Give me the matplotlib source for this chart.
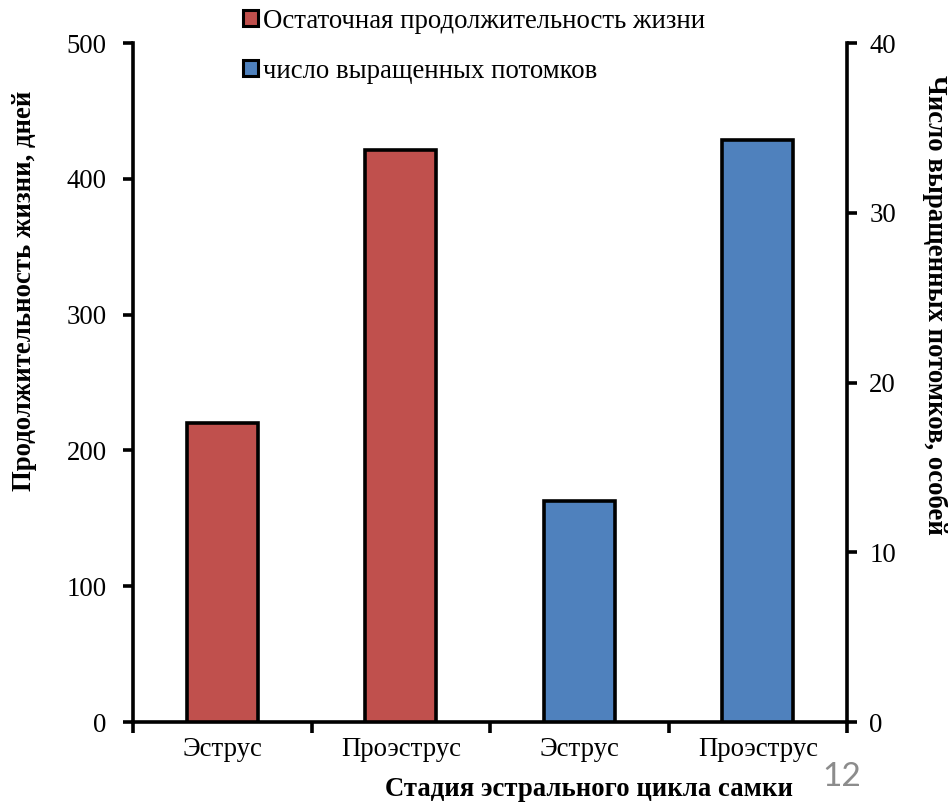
import matplotlib
matplotlib.use('Agg')
import matplotlib.pyplot as plt
from matplotlib.patches import Patch
from matplotlib.ticker import FixedLocator, NullFormatter

plt.rcParams['font.family'] = ['Liberation Serif', 'DejaVu Serif']

# данные
stages = ['Эструс', 'Проэструс', 'Эструс', 'Проэструс']
lifespan_x = [0, 1]
lifespan_days = [220, 421]          # остаточная продолжительность жизни, дней
offspring_x = [2, 3]
offspring_count = [13.0, 34.3]      # число выращенных потомков, особей

red = '#C0504D'
blue = '#4F81BD'
lw = 2.6
fs = 19.3

fig = plt.figure(figsize=(9.48, 8.07), dpi=100)
ax = fig.add_axes([0.1403, 0.1053, 0.7532, 0.8414])
ax2 = ax.twinx()

ax.bar(lifespan_x, lifespan_days, width=0.4, color=red, edgecolor='black', linewidth=lw, zorder=3)
ax2.bar(offspring_x, offspring_count, width=0.4, color=blue, edgecolor='black', linewidth=lw, zorder=3)

ax.set_xlim(-0.5, 3.5)
ax.set_ylim(0, 500)
ax2.set_ylim(0, 40)
ax.set_yticks([0, 100, 200, 300, 400, 500])
ax2.set_yticks([0, 10, 20, 30, 40])

# деления оси X на границах групп, подписи по центру
ax.xaxis.set_major_locator(FixedLocator([-0.5, 0.5, 1.5, 2.5, 3.5]))
ax.xaxis.set_major_formatter(NullFormatter())
ax.set_xticks(range(len(stages)), minor=True)
ax.set_xticklabels(stages, minor=True)
ax.tick_params(axis='x', which='major', direction='out', length=8, width=lw)
ax.tick_params(axis='x', which='minor', length=0, pad=11, labelsize=fs)

ax.tick_params(axis='y', direction='out', length=7, width=lw, labelsize=fs, pad=12)
ax2.tick_params(axis='y', direction='out', length=7, width=lw, labelsize=fs, pad=9)

for a in (ax, ax2):
    a.spines['top'].set_visible(False)
    for s in ('left', 'right', 'bottom'):
        a.spines[s].set_linewidth(lw)
ax.spines['right'].set_visible(False)
ax2.spines['left'].set_visible(False)
ax2.spines['bottom'].set_visible(False)

fig.text(25 / 948, 1 - 291 / 807, 'Продолжительность жизни, дней', rotation=90,
         ha='center', va='center', fontsize=fs, fontweight='bold')
fig.text(935 / 948, 1 - 305 / 807, 'Число выращенных потомков, особей', rotation=270,
         ha='center', va='center', fontsize=fs, fontweight='bold')
fig.text(589 / 948, 1 - 790 / 807, 'Стадия эстрального цикла самки',
         ha='center', va='center', fontsize=fs, fontweight='bold')

handles = [Patch(facecolor=red, edgecolor='black', linewidth=2.2),
           Patch(facecolor=blue, edgecolor='black', linewidth=2.2)]
fig.legend(handles, ['Остаточная продолжительность жизни', 'число выращенных потомков'],
           loc='upper left', bbox_to_anchor=(243 / 948, 0.989), frameon=False,
           fontsize=fs, borderpad=0, borderaxespad=0, handlelength=0.55,
           handleheight=0.55, handletextpad=0.2, labelspacing=0.93)

# номер слайда
fig.text(842 / 948, 1 - 777 / 807, '12', ha='center', va='center',
         fontsize=24, color='#8C8C8C', family=['Lato', 'DejaVu Sans'])

fig.savefig('out.png', dpi=100, facecolor='white')
